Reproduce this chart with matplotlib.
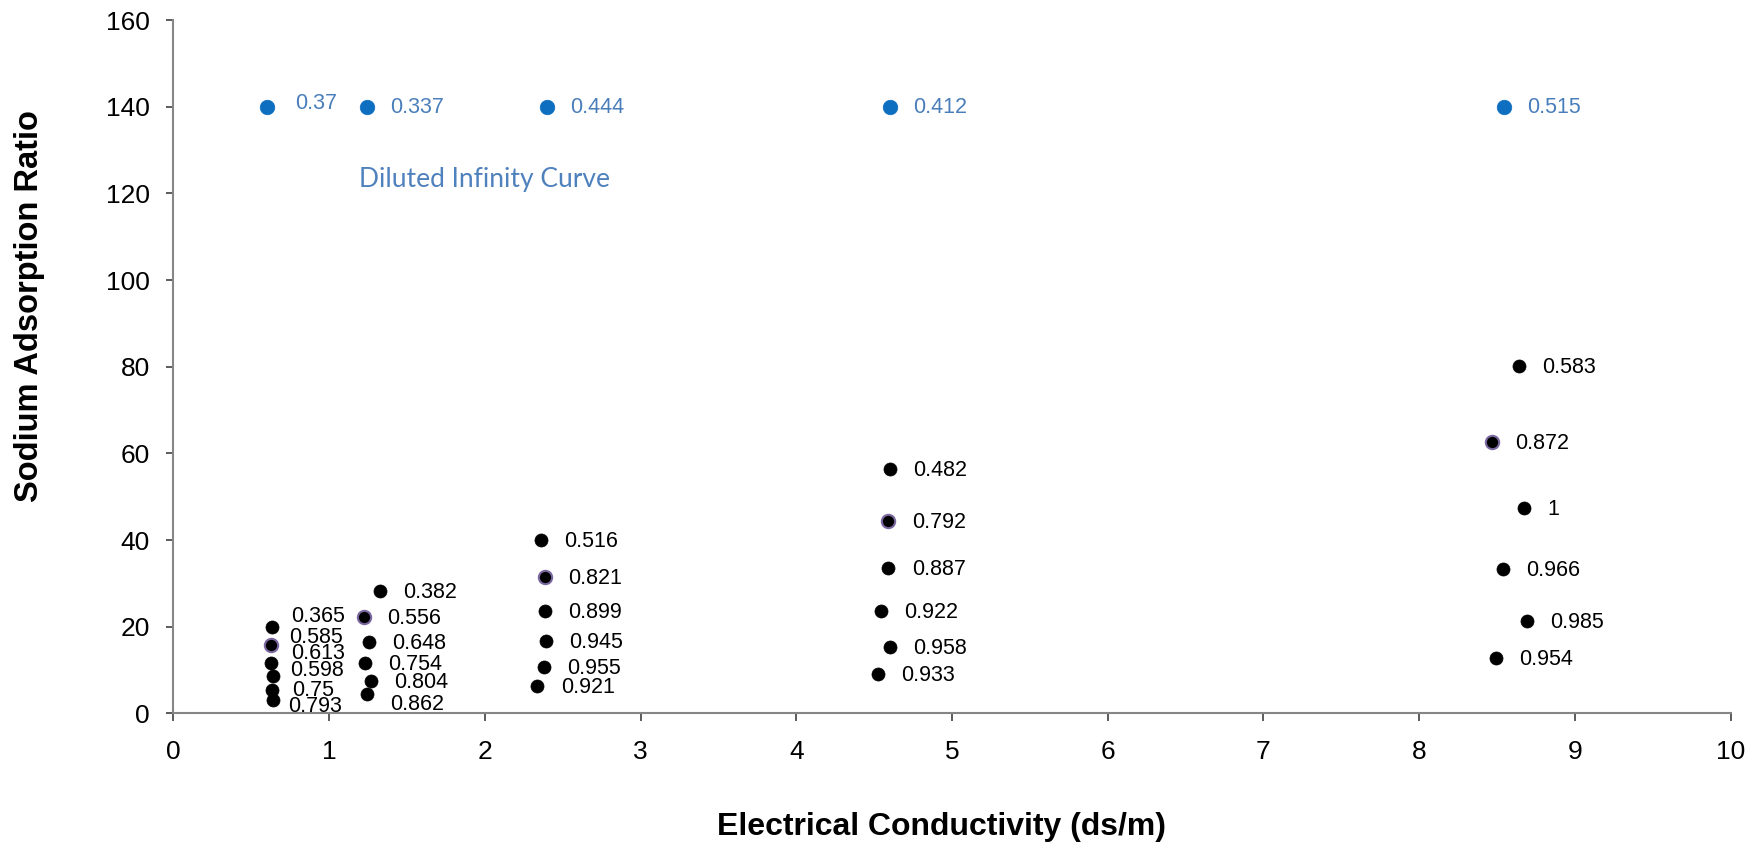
import matplotlib
matplotlib.use("Agg")
import matplotlib.pyplot as plt

# ---------------- data ----------------
# Diluted infinity curve points (blue)
blue_x = [0.602, 1.243, 2.398, 4.599, 8.543]
blue_y = [140, 140, 140, 140, 140]
blue_labels = ["0.37", "0.337", "0.444", "0.412", "0.515"]

# Measured points (black)
ec_values = [0.635, 0.630, 0.628, 0.637, 0.632, 0.641,
             1.327, 1.222, 1.258, 1.232, 1.269, 1.243,
             2.362, 2.387, 2.387, 2.392, 2.381, 2.338,
             4.602, 4.592, 4.592, 4.542, 4.602, 4.523,
             8.641, 8.469, 8.673, 8.538, 8.693, 8.491]
sar_values = [20.0, 15.7, 11.7, 8.5, 5.4, 3.1,
              28.2, 22.2, 16.5, 11.7, 7.5, 4.5,
              40.0, 31.4, 23.7, 16.8, 10.8, 6.3,
              56.5, 44.5, 33.5, 23.6, 15.2, 9.0,
              80.2, 62.7, 47.3, 33.3, 21.4, 12.7]
point_labels = ["0.365", "0.585", "0.613", "0.598", "0.75", "0.793",
                "0.382", "0.556", "0.648", "0.754", "0.804", "0.862",
                "0.516", "0.821", "0.899", "0.945", "0.955", "0.921",
                "0.482", "0.792", "0.887", "0.922", "0.958", "0.933",
                "0.583", "0.872", "1", "0.966", "0.985", "0.954"]
# points drawn with a purple outline
highlighted = ["0.585", "0.556", "0.821", "0.792", "0.872"]

annotation_text = "Diluted Infinity Curve"
x_ticks = [0, 1, 2, 3, 4, 5, 6, 7, 8, 9, 10]
y_ticks = [0, 20, 40, 60, 80, 100, 120, 140, 160]

# ---------------- label placement (styling, in pixels at dpi 100) ----------------
default_off = (23.3, -1.5)
label_offsets = {
    "0.365": (19, 10), "0.585": (17.7, 8), "0.613": (20, 8.7),
    "0.598": (17.3, 5.7), "0.75": (20, -0.7), "0.793": (14.7, -6.7),
    "0.862": (23.3, -10.3),
}
blue_offsets = {"0.37": (28, 3.3)}

plt.rcParams['font.family'] = ['Liberation Sans', 'DejaVu Sans']

fig = plt.figure(figsize=(17.62, 8.49), dpi=100)
ax = fig.add_axes([0.0984, 0.1598, 0.8838, 0.8166])

px2pt = 0.72
label_size = 15.5

# blue series
ax.scatter(blue_x, blue_y, s=10.5**2, color="#0E6FC1", edgecolors="#0E6FC1",
           linewidths=0.5, zorder=3)
for x, y, lab in zip(blue_x, blue_y, blue_labels):
    dx, dy = blue_offsets.get(lab, (23.3, -1.0))
    ax.annotate(lab, (x, y), xytext=(dx * px2pt, dy * px2pt),
                textcoords="offset points", ha="left", va="center",
                fontsize=label_size, color="#4A7EBB")

# black series
for x, y, lab in zip(ec_values, sar_values, point_labels):
    if lab in highlighted:
        ax.plot(x, y, "o", ms=9.6, mfc="black", mec="#7B68A0", mew=1.5, zorder=3)
    else:
        ax.plot(x, y, "o", ms=9.4, mfc="black", mec="black", mew=0.5, zorder=3)
    dx, dy = label_offsets.get(lab, default_off)
    ax.annotate(lab, (x, y), xytext=(dx * px2pt, dy * px2pt),
                textcoords="offset points", ha="left", va="center",
                fontsize=label_size, color="black")

ax.text(1.195, 123.1, annotation_text, ha="left", va="center",
        fontsize=19, color="#4F81BD", family=["Lato", "DejaVu Sans"])

ax.set_xlim(0, 10)
ax.set_ylim(0, 160)
ax.set_xticks(x_ticks)
ax.set_yticks(y_ticks)
ax.set_xticklabels([str(t) for t in x_ticks])
ax.set_yticklabels([str(t) for t in y_ticks])

for side in ("top", "right"):
    ax.spines[side].set_visible(False)
for side in ("left", "bottom"):
    ax.spines[side].set_color("#868686")
    ax.spines[side].set_linewidth(1.5)

ax.tick_params(axis="x", direction="out", length=6, width=1.2, color="#404040",
               labelsize=19, pad=13)
ax.tick_params(axis="y", direction="out", length=5, width=1.2, color="#404040",
               labelsize=19, pad=12)

ax.set_xlabel("Electrical Conductivity (ds/m)", fontsize=23, fontweight="bold",
              va="center")
ax.xaxis.set_label_coords(0.4934, -0.164)
ax.set_ylabel("Sodium Adsorption Ratio", fontsize=23.5, fontweight="bold",
              va="center", ha="center")
ax.yaxis.set_label_coords(-0.0927, 0.5868)

fig.savefig("out.png", dpi=100)
